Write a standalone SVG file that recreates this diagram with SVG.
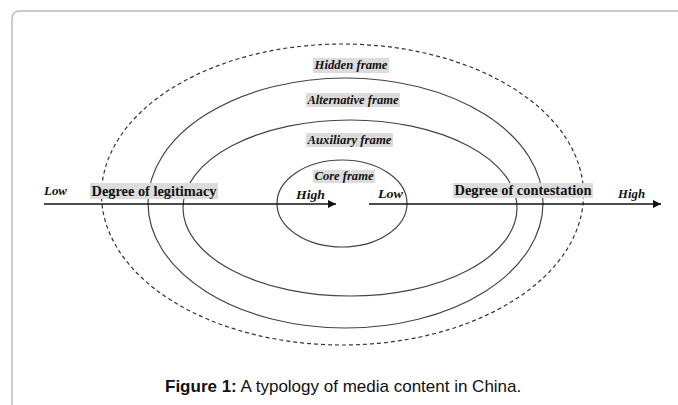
<svg xmlns="http://www.w3.org/2000/svg" width="678" height="405" viewBox="0 0 678 405">
  <style>
    .frame { fill: none; stroke: #444; stroke-width: 1.2; }
    .dashed { fill: none; stroke: #333; stroke-width: 1.2; stroke-dasharray: 4 3; }
    .lbl { font-family: "Liberation Serif", "Times New Roman", serif; font-weight: bold; font-style: italic; font-size: 13px; fill: #111; text-anchor: middle; }
    .deg { font-family: "Liberation Serif", "Times New Roman", serif; font-weight: bold; font-size: 15px; fill: #111; text-anchor: middle; }
    .bg { fill: #dcdcdc; }
    .axis { stroke: #111; stroke-width: 1.6; fill: none; }
    .cap { font-family: "Liberation Sans", Arial, sans-serif; font-size: 17px; fill: #111; }
  </style>
  <defs>
    <marker id="arrow" viewBox="0 0 10 10" refX="10" refY="5" markerWidth="9" markerHeight="8" markerUnits="userSpaceOnUse" orient="auto">
      <path d="M0,0 L10,5 L0,10 z" fill="#111"/>
    </marker>
  </defs>
  <rect width="678" height="405" fill="#fff"/>
  <path d="M12,405 V19 Q12,11 20,11 H678" fill="none" stroke="#bbb" stroke-width="1.5"/>

  <g id="hidden-frame">
    <ellipse class="dashed" cx="342.5" cy="194.5" rx="241" ry="150.5"/>
  </g>
  <g id="alternative-frame">
    <ellipse class="frame" cx="345.5" cy="203" rx="197.5" ry="125"/>
  </g>
  <g id="auxiliary-frame">
    <ellipse class="frame" cx="350" cy="208" rx="167" ry="88"/>
  </g>
  <g id="core-frame">
    <ellipse class="frame" cx="342" cy="203.5" rx="65" ry="43.5"/>
  </g>

  <g id="frame-labels">
    <rect class="bg" x="313" y="58" width="76" height="15"/>
    <text class="lbl" x="351" y="69" textLength="73" lengthAdjust="spacingAndGlyphs">Hidden frame</text>
    <rect class="bg" x="306" y="93" width="94" height="14"/>
    <text class="lbl" x="353" y="104" textLength="91" lengthAdjust="spacingAndGlyphs">Alternative frame</text>
    <rect class="bg" x="306" y="133" width="87" height="14"/>
    <text class="lbl" x="349.5" y="144" textLength="84" lengthAdjust="spacingAndGlyphs">Auxiliary frame</text>
    <rect class="bg" x="313" y="170" width="62" height="13"/>
    <text class="lbl" x="344" y="180" textLength="59" lengthAdjust="spacingAndGlyphs">Core frame</text>
  </g>

  <g id="connectors">
    <line class="axis" x1="44" y1="204" x2="336" y2="204" marker-end="url(#arrow)"/>
    <line class="axis" x1="369" y1="204" x2="661" y2="204" marker-end="url(#arrow)"/>
    <text class="lbl" x="55.5" y="195" textLength="23" lengthAdjust="spacingAndGlyphs">Low</text>
    <rect class="bg" x="90" y="183" width="128" height="16"/>
    <text class="deg" x="154" y="196" textLength="125" lengthAdjust="spacingAndGlyphs">Degree of legitimacy</text>
    <text class="lbl" x="310.5" y="199" textLength="29" lengthAdjust="spacingAndGlyphs">High</text>
    <text class="lbl" x="390.5" y="198" textLength="25" lengthAdjust="spacingAndGlyphs">Low</text>
    <rect class="bg" x="453" y="183" width="140" height="15"/>
    <text class="deg" x="523" y="195" textLength="137" lengthAdjust="spacingAndGlyphs">Degree of contestation</text>
    <text class="lbl" x="631.5" y="198" textLength="27" lengthAdjust="spacingAndGlyphs">High</text>
  </g>

  <text class="cap" x="165" y="392"><tspan font-weight="bold">Figure 1:</tspan> A typology of media content in China.</text>
</svg>
